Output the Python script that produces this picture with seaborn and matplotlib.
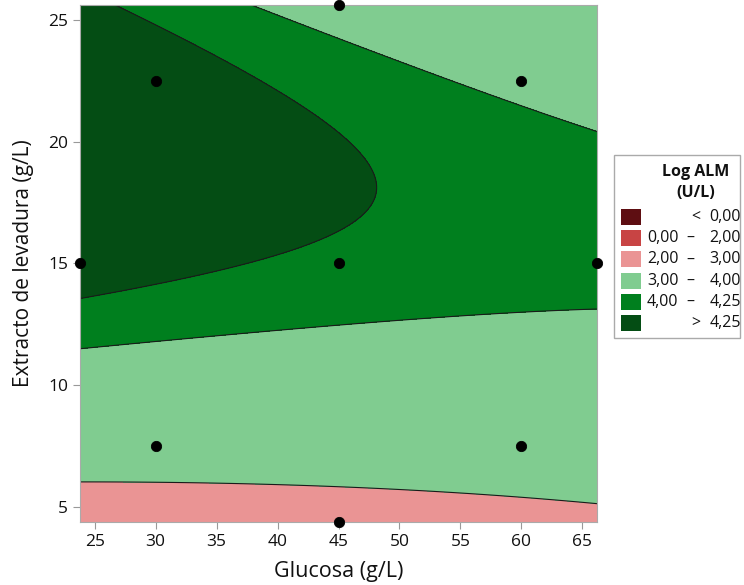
import numpy as np
import pandas as pd
import seaborn as sns
import matplotlib.pyplot as plt
from matplotlib.patches import Rectangle

# design points (central composite design)
glucosa = [30, 60, 30, 60, 45, 23.79, 66.21, 45, 45]
extracto = [7.5, 7.5, 22.5, 22.5, 15, 15, 15, 4.39, 25.61]

# quadratic model in coded units, estimated from the contours
# order: const, G, E, G*G, E*E, G*E
coef = [4.1915, -0.1062, 0.4121, 0.0208, -0.4610, -0.1373]

levels = [-10, 0, 2, 3, 4, 4.25, 10]
colors = ["#5E0E12", "#C84444", "#EA9494", "#80CC90", "#007F1E", "#044D14"]
leg_left = ["", "0,00", "2,00", "3,00", "4,00", ""]
leg_mid = ["<", "–", "–", "–", "–", ">"]
leg_right = ["0,00", "2,00", "3,00", "4,00", "4,25", "4,25"]

sns.set_style("white")
plt.rcParams["font.family"] = ["Open Sans", "DejaVu Sans"]
plt.rcParams["text.color"] = "#111111"

gx = np.linspace(23.79, 66.21, 300)
gy = np.linspace(4.39, 25.61, 300)
X, Y = np.meshgrid(gx, gy)
x1 = (X - 45) / 15
x2 = (Y - 15) / 7.5
Z = (coef[0] + coef[1] * x1 + coef[2] * x2 + coef[3] * x1**2
     + coef[4] * x2**2 + coef[5] * x1 * x2)

fig = plt.figure(figsize=(7.44, 5.85), dpi=100)
ax = fig.add_axes([0.1075, 0.1077, 0.695, 0.8838])
ax.contourf(X, Y, Z, levels=levels, colors=colors)
ax.contour(X, Y, Z, levels=levels[1:-1], colors="#1a1a1a", linewidths=0.8)

pts = pd.DataFrame({"g": glucosa, "e": extracto})
sns.scatterplot(data=pts, x="g", y="e", color="black", s=55, ax=ax,
                edgecolor="black", clip_on=False, zorder=5)

ax.set_xlim(23.79, 66.21)
ax.set_ylim(4.39, 25.61)
ax.set_xticks([25, 30, 35, 40, 45, 50, 55, 60, 65])
ax.set_yticks([5, 10, 15, 20, 25])
ax.tick_params(labelsize=12.5, length=5, color="#999999", labelcolor="#111111",
               direction="out", bottom=True, left=True)
ax.set_xlabel("Glucosa (g/L)", fontsize=15.5, labelpad=8, color="#111111")
ax.set_ylabel("Extracto de levadura (g/L)", fontsize=15, labelpad=10,
              color="#111111")
for s in ax.spines.values():
    s.set_color("#aaaaaa")

# legend box
W, H = 744, 585
fig.patches.append(Rectangle((614 / W, 1 - 338 / H), 126 / W, 183 / H,
                             transform=fig.transFigure, facecolor="white",
                             edgecolor="#aaaaaa", linewidth=1))
fig.text(696 / W, 1 - 172 / H, "Log ALM", fontsize=11.5, fontweight="bold",
         ha="center", va="center")
fig.text(696 / W, 1 - 193 / H, "(U/L)", fontsize=11.5, fontweight="bold",
         ha="center", va="center")
for i, c in enumerate(colors):
    yc = 217 + i * 21.2
    fig.patches.append(Rectangle((621 / W, 1 - (yc + 8) / H), 20 / W, 16 / H,
                                 transform=fig.transFigure, facecolor=c,
                                 edgecolor="none"))
    yf = 1 - yc / H
    if leg_left[i]:
        fig.text(647 / W, yf, leg_left[i], fontsize=11.5, ha="left", va="center")
    fig.text(690 / W if leg_left[i] else 696 / W, yf, leg_mid[i], fontsize=11.5,
             ha="center", va="center")
    fig.text(741 / W, yf, leg_right[i], fontsize=11.5, ha="right", va="center")

fig.savefig("out.png", dpi=100)
